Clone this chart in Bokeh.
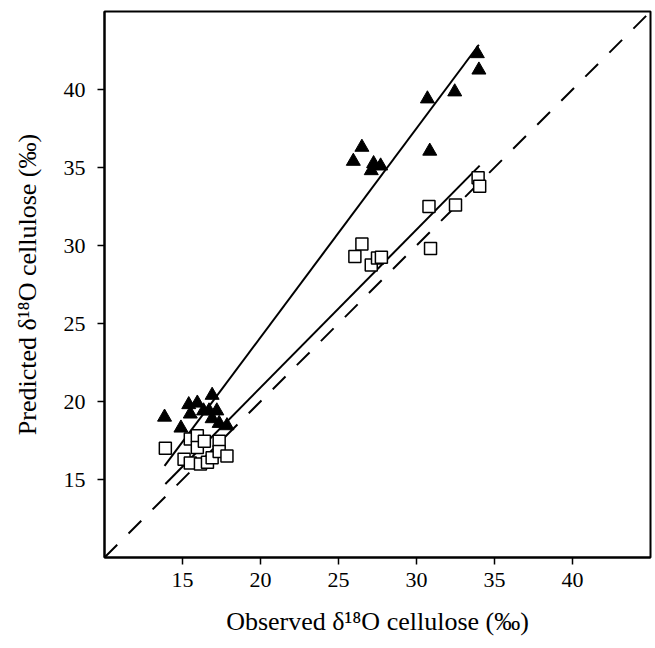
import numpy as np
from bokeh.plotting import figure
from bokeh.models import Range1d, FixedTicker
from bokeh.embed import file_html
from bokeh.resources import INLINE

# Observed vs predicted delta18O cellulose (per mil)
obs_tri = [13.85, 14.9, 15.4, 15.5, 15.95, 16.35, 16.7, 16.9, 16.9, 17.2, 17.35, 17.85,
           25.95, 26.5, 27.1, 27.25, 27.7, 30.85, 30.7, 32.45, 33.9, 34.0]
pred_tri = [19.0, 18.3, 19.8, 19.2, 19.9, 19.4, 19.4, 20.4, 18.9, 19.4, 18.6, 18.45,
            35.4, 36.3, 34.8, 35.25, 35.1, 36.05, 39.4, 39.85, 42.3, 41.25]

obs_sq = [13.9, 15.1, 15.5, 15.5, 15.95, 15.95, 16.15, 16.4, 16.6, 16.9, 17.35, 17.35, 17.85,
          26.05, 26.5, 27.1, 27.5, 27.75, 30.8, 30.9, 32.5, 33.95, 34.05]
pred_sq = [17.0, 16.3, 17.6, 16.05, 17.8, 17.05, 16.0, 17.45, 16.1, 16.4, 17.45, 16.8, 16.5,
           29.3, 30.1, 28.75, 29.2, 29.25, 32.5, 29.8, 32.6, 34.35, 33.8]

# fitted regression lines: (slope, intercept)
fit_tri = (1.34, -2.69)
fit_sq = (1.013, 0.63)

axis_limits = [10, 45]
tick_values = [15, 20, 25, 30, 35, 40]
x_title = "Observed δ¹⁸O cellulose (‰)"
y_title = "Predicted δ¹⁸O cellulose (‰)"

FONT = "Liberation Serif"

p = figure(frame_width=546, frame_height=546, output_backend="svg", toolbar_location=None,
           x_range=Range1d(*axis_limits), y_range=Range1d(*axis_limits),
           min_border_left=104, min_border_right=5, min_border_top=11, min_border_bottom=91)
p.grid.visible = False
p.outline_line_color = "black"
p.outline_line_width = 2
p.background_fill_color = "white"
p.border_fill_color = "white"

for ax in (p.xaxis[0], p.yaxis[0]):
    ax.ticker = FixedTicker(ticks=tick_values)
    ax.minor_tick_line_color = None
    ax.major_tick_in = 0
    ax.major_tick_out = 7
    ax.major_tick_line_width = 1.5
    ax.major_tick_line_color = "black"
    ax.axis_line_color = "black"
    ax.axis_line_width = 2
    ax.major_label_text_font = FONT
    ax.major_label_text_font_size = "22px"
    ax.major_label_text_color = "black"
    ax.axis_label_text_font = FONT
    ax.axis_label_text_font_size = "26px"
    ax.axis_label_text_font_style = "normal"
    ax.axis_label_text_color = "black"

p.xaxis.axis_label = x_title
p.yaxis.axis_label = y_title
p.xaxis.major_label_standoff = 8
p.yaxis.major_label_standoff = 12
p.xaxis.axis_label_standoff = 17
p.yaxis.axis_label_standoff = 19

# 1:1 line
p.line(axis_limits, axis_limits, line_color="black", line_width=2, line_dash="18 16")

# regression lines over each series' observed range
for xs, (slope, icpt) in ((obs_tri, fit_tri), (obs_sq, fit_sq)):
    lx = np.array([min(xs), max(xs)])
    p.line(lx, icpt + slope * lx, line_color="black", line_width=2)

p.scatter(obs_sq, pred_sq, marker="square", size=12, fill_color="white",
          line_color="black", line_width=1.5)
p.scatter(obs_tri, pred_tri, marker="triangle", size=14, fill_color="black",
          line_color="black")

open("out.html", "w").write(file_html(p, INLINE))
